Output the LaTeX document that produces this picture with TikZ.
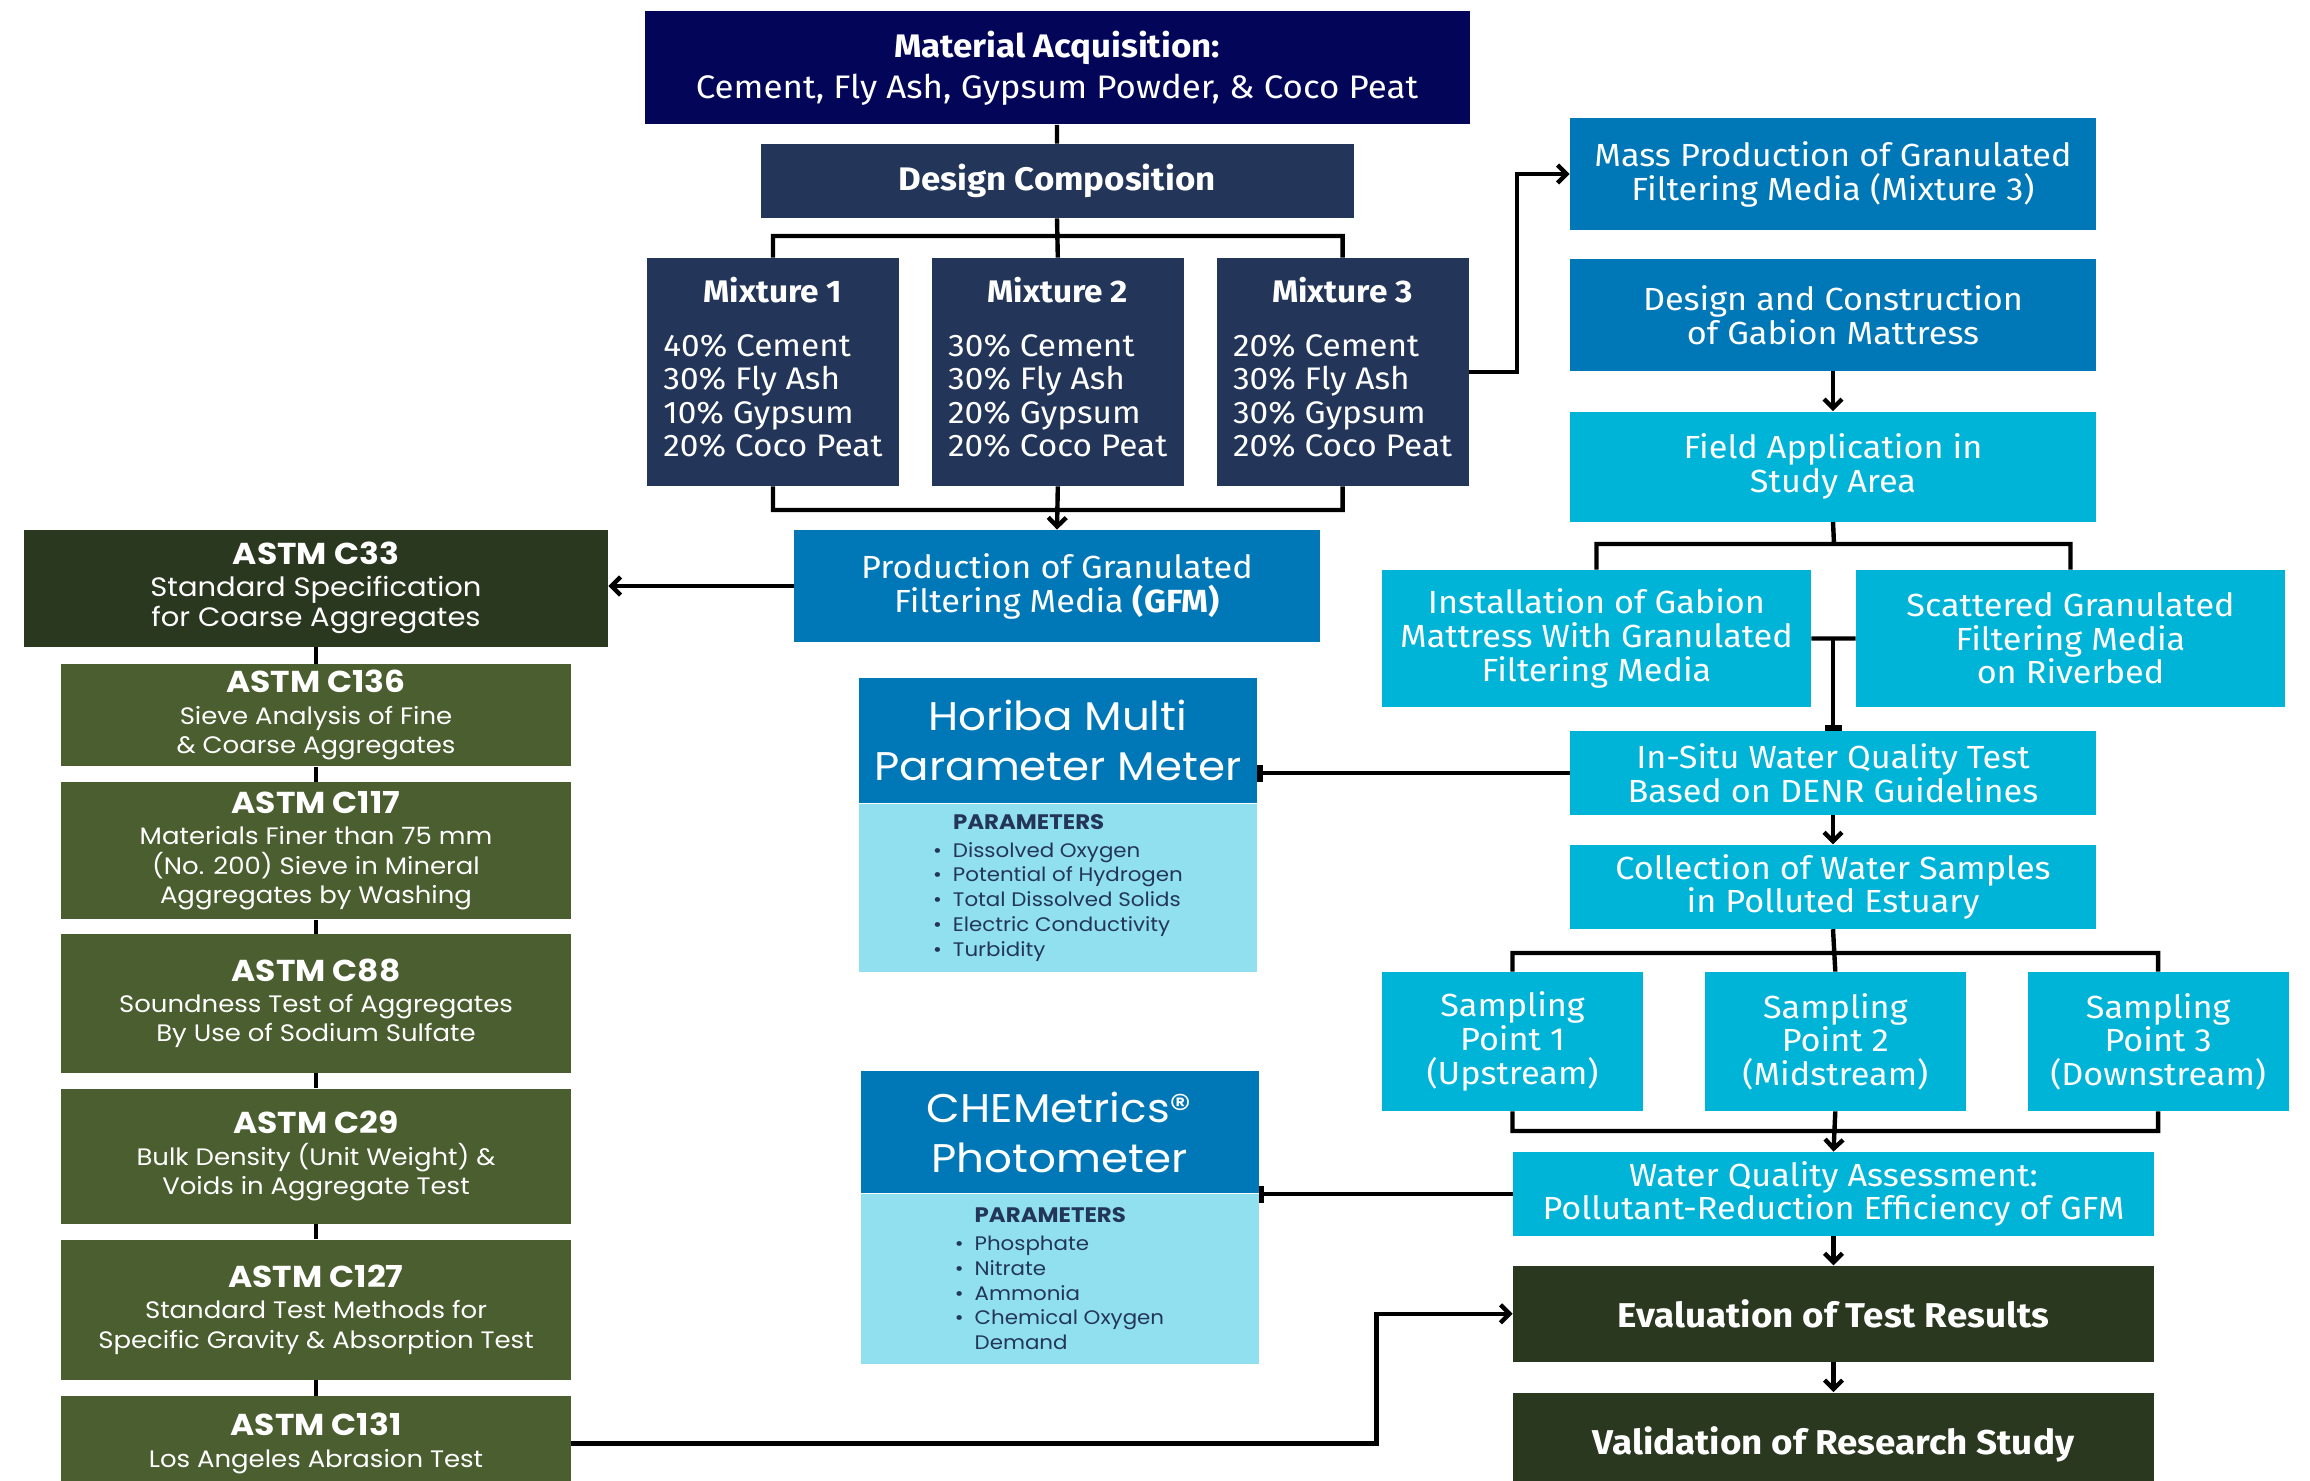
\documentclass[tikz,border=0pt]{standalone}
\usepackage{fontspec}
\setmainfont{Fira Sans}[FakeStretch=1.07]
\newfontfamily\geo{Poppins}[FakeStretch=1.09]
\usetikzlibrary{positioning, arrows.meta}
\definecolor{acqblue}{RGB}{3,6,88}
\definecolor{slate}{RGB}{35,54,89}
\definecolor{ocean}{RGB}{0,119,182}
\definecolor{aqua}{RGB}{0,180,216}
\definecolor{sky}{RGB}{144,224,239}
\definecolor{forest}{RGB}{42,56,31}
\definecolor{moss}{RGB}{74,94,47}
\tikzset{
x=0.5pt, y=-0.5pt, % one unit is one pixel of the layout
>={Straight Barb[length=4.5pt,width=9pt]}, % open arrow heads
link/.style={line width=2.2pt}, % every connector
tick/.style={link, -{Bar[width=8.5pt,line width=2.6pt]}}, % connectors ending on a bar
blk/.style={rectangle, inner sep=0pt, align=center, text=white}, % every box
navybox/.style={blk, fill=acqblue},
slatebox/.style={blk, fill=slate},
oceanbox/.style={blk, fill=ocean, minimum width=263pt, minimum height=56pt, font=\fontsize{16}{17}\selectfont},
aquabox/.style={blk, fill=aqua, font=\fontsize{16}{16.8}\selectfont},
mix/.style={slatebox, minimum width=126pt, minimum height=114pt, font=\fontsize{15.6}{16.8}\selectfont},
astm/.style={blk, fill=moss, minimum width=255pt, font=\geo\fontsize{11.9}{14.7}\selectfont},
meter/.style={blk, fill=ocean, minimum width=199pt, font=\geo\fontsize{20}{25}\selectfont},
params/.style={blk, fill=sky, text=slate, align=left, minimum width=199pt, font=\geo\fontsize{9.8}{12.4}\selectfont},
darkbox/.style={blk, fill=forest, minimum width=320.5pt, font=\bfseries\fontsize{17.2}{19}\selectfont},
}
\newcommand{\tit}[1]{{\geo\bfseries\fontsize{15.1}{16}\selectfont #1}\\[1pt]}
\newcommand{\itm}{\textbullet\hspace{5.5pt}}
\newcommand{\partit}{\phantom{\itm}{\bfseries\fontsize{10.5}{12}\selectfont PARAMETERS}\\[1.5pt]}
\newcommand{\mixlist}[4]{\begin{tabular}[t]{@{}l@{}}#1\% Cement\\#2\% Fly Ash\\#3\% Gypsum\\#4\% Coco Peat\end{tabular}}

\begin{document}
\begin{tikzpicture}
    \useasboundingbox (0,0) rectangle (2310,1481);

    % composition
    \node[navybox, minimum width=412.5pt, minimum height=56.5pt, font=\fontsize{16.3}{20.5}\selectfont] (acq) at (1057,68) {\textbf{Material Acquisition:}\\Cement, Fly Ash, Gypsum Powder, \& Coco Peat};
    \node[slatebox, minimum width=296.5pt, minimum height=37pt, font=\bfseries\fontsize{16.3}{19}\selectfont] (dc) at (1057,181) {Design Composition};
    \node[mix] (m1) at (773,372) {\textbf{Mixture 1}\\[10pt]\mixlist{40}{30}{10}{20}};
    \node[mix, right=16pt of m1] (m2) {\textbf{Mixture 2}\\[10pt]\mixlist{30}{30}{20}{20}};
    \node[mix, right=16pt of m2] (m3) {\textbf{Mixture 3}\\[10pt]\mixlist{20}{30}{30}{20}};
    \node[oceanbox] (gfm) at (1057,586) {Production of Granulated\\Filtering Media \textbf{(GFM)}};

    % aggregate tests
    \node[astm, fill=forest, minimum width=292pt, minimum height=58.5pt, font=\geo\fontsize{13.3}{15}\selectfont] (c33) at (316,588) {\tit{ASTM C33}Standard Specification\\for Coarse Aggregates};
    \node[astm, minimum height=51pt, below=8.5pt of c33] (c136) {\tit{ASTM C136}Sieve Analysis of Fine\\\& Coarse Aggregates};
    \node[astm, minimum height=68.5pt, below=7.5pt of c136] (c117) {\tit{ASTM C117}Materials Finer than 75 mm\\(No. 200) Sieve in Mineral\\Aggregates by Washing};
    \node[astm, minimum height=69.5pt, below=7pt of c117] (c88) {\tit{ASTM C88}Soundness Test of Aggregates\\By Use of Sodium Sulfate};
    \node[astm, minimum height=67.5pt, below=7.5pt of c88] (c29) {\tit{ASTM C29}Bulk Density (Unit Weight) \&\\Voids in Aggregate Test};
    \node[astm, minimum height=70pt, below=7.5pt of c29] (c127) {\tit{ASTM C127}Standard Test Methods for\\Specific Gravity \& Absorption Test};
    \node[astm, minimum height=47pt, below=8pt of c127] (c131) {\tit{ASTM C131}Los Angeles Abrasion Test};

    % meters
    \node[meter, minimum height=62.5pt] (horiba) at (1058,740.5) {Horiba Multi\\Parameter Meter};
    \node[params, minimum height=84pt, below=0pt of horiba] (horibapar) {\partit
      \itm Dissolved Oxygen\\\itm Potential of Hydrogen\\\itm Total Dissolved Solids\\\itm Electric Conductivity\\\itm Turbidity};
    \node[meter, minimum height=61pt] (chem) at (1059.5,1132) {CHEMetrics®\\Photometer};
    \node[params, minimum height=85pt, below=0pt of chem] (chempar) {\partit
      \itm Phosphate\\\itm Nitrate\\\itm Ammonia\\\itm Chemical Oxygen\\\phantom{\itm}Demand};

    % field work
    \node[oceanbox] (mass) at (1833,174) {Mass Production of Granulated\\Filtering Media (Mixture 3)};
    \node[oceanbox, below=14pt of mass] (gabion) {Design and Construction\\of Gabion Mattress};
    \node[aquabox, minimum width=263pt, minimum height=55pt, below=20pt of gabion] (field) {Field Application in\\Study Area};
    \node[aquabox, minimum width=214.5pt, minimum height=68.5pt] (install) at (1596.5,638.5) {Installation of Gabion\\Mattress With Granulated\\Filtering Media};
    \node[aquabox, minimum width=214.5pt, minimum height=68.5pt] (scatter) at (2070.5,638.5) {Scattered Granulated\\Filtering Media\\on Riverbed};
    \node[aquabox, minimum width=263pt, minimum height=42pt] (insitu) at (1833,773) {In-Situ Water Quality Test\\Based on DENR Guidelines};
    \node[aquabox, minimum width=263pt, minimum height=42pt, below=14.5pt of insitu] (collect) {Collection of Water Samples\\in Polluted Estuary};
    \node[aquabox, minimum width=130.5pt, minimum height=69.5pt] (sp1) at (1512.5,1041.5) {Sampling\\Point 1\\(Upstream)};
    \node[aquabox, minimum width=130.5pt, minimum height=69.5pt, right=30.5pt of sp1] (sp2) {Sampling\\Point 2\\(Midstream)};
    \node[aquabox, minimum width=130.5pt, minimum height=69.5pt, right=30.5pt of sp2] (sp3) {Sampling\\Point 3\\(Downstream)};
    \node[aquabox, minimum width=320.5pt, minimum height=42pt] (wqa) at (1833.5,1194) {Water Quality Assessment:\\Pollutant-Reduction Efficiency of GFM};
    \node[darkbox, minimum height=48pt, below=14.5pt of wqa] (eval) {Evaluation of Test Results};
    \node[darkbox, minimum height=52pt, below=15pt of eval] (valid) {\raisebox{2pt}{Validation of Research Study}};

    \coordinate (mixsplit) at (1057,236);
    \coordinate (mixjoin) at (1057,510);
    \coordinate (fieldsplit) at (1834,544);
    \coordinate (colsplit) at (1834,953);
    \coordinate (spjoin) at (1834,1131);

    \draw[link]
    (acq) -- (dc)
    (dc.south) -- (m2.north)
    (m1.north) |- (mixsplit) -| (m3.north)
    (m1.south) |- (mixjoin) -| (m3.south);
    \draw[link, ->] (m2.south) -- (gfm.north);
    \draw[link, ->] (gfm.west) -- (gfm.west -| c33.east);
    \draw[link, ->] (m3.east) -- ++(48,0) |- (mass.west);
    \foreach \a/\b in {c33/c136, c136/c117, c117/c88, c88/c29, c29/c127, c127/c131}
      \draw[link] (\a) -- (\b);
    \draw[link, ->] (c131.east) -- ++(805,0) |- (eval.west);

    \draw[link, ->] (gabion) -- (field);
    \draw[link]
    (field.south) -- (fieldsplit)
    (install.north) |- (fieldsplit) -| (scatter.north)
    (install.east) -- (scatter.west);
    \draw[tick] (install.east -| insitu.north) -- (insitu.north);
    \draw[tick] (insitu.west) -- (insitu.west -| horiba.east);
    \draw[link, ->] (insitu) -- (collect);
    \draw[link]
    (collect.south) -- (sp2.north)
    (sp1.north) |- (colsplit) -| (sp3.north)
    (sp1.south) |- (spjoin) -| (sp3.south);
    \draw[link, ->] (sp2.south) -- (wqa.north);
    \draw[tick] (wqa.west) -- (wqa.west -| chem.east);
    \draw[link, ->] (wqa) -- (eval);
    \draw[link, ->] (eval) -- (valid);
\end{tikzpicture}
\end{document}
